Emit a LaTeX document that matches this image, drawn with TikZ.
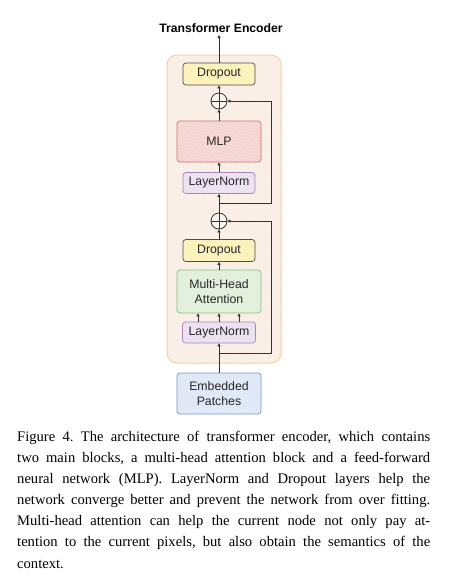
\documentclass[tikz,border=0pt]{standalone}
\usepackage{fontspec}
\setmainfont{Liberation Serif}
\setsansfont{Liberation Sans}
\usepackage{tikz}
\usetikzlibrary{arrows.meta,patterns,positioning,calc}

\definecolor{contfill}{RGB}{253,244,238}
\definecolor{conthatch}{RGB}{248,230,218}
\definecolor{contline}{RGB}{244,210,155}
\definecolor{yelfill}{RGB}{255,248,208}
\definecolor{yelhatch}{RGB}{252,234,150}
\definecolor{redfill}{RGB}{252,230,228}
\definecolor{redhatch}{RGB}{244,186,184}
\definecolor{redline}{RGB}{212,108,106}
\definecolor{purfill}{RGB}{243,237,247}
\definecolor{purhatch}{RGB}{222,207,233}
\definecolor{purline}{RGB}{165,135,185}
\definecolor{grnfill}{RGB}{236,245,232}
\definecolor{grnhatch}{RGB}{210,232,200}
\definecolor{grnline}{RGB}{140,190,120}
\definecolor{blufill}{RGB}{234,240,251}
\definecolor{bluhatch}{RGB}{205,219,243}
\definecolor{bluline}{RGB}{122,152,200}
\definecolor{wire}{RGB}{50,50,50}

\tikzset{
  layer/.style={draw, rounded corners=3pt, line width=0.7pt, minimum width=72pt, minimum height=22pt,
    inner sep=0pt, font=\sffamily\fontsize{12.3}{14}\selectfont, align=center, text=black!85},
  wide/.style={layer, minimum width=84pt, minimum height=42pt},
  dropbox/.style={layer, draw=black!70, preaction={fill=yelfill}, pattern=north east lines, pattern color=yelhatch},
  normbox/.style={layer, draw=purline, preaction={fill=purfill}, pattern=north east lines, pattern color=purhatch},
  mlpbox/.style={wide, draw=redline, preaction={fill=redfill}, pattern=north east lines, pattern color=redhatch},
  attnbox/.style={wide, draw=grnline, preaction={fill=grnfill}, pattern=north east lines, pattern color=grnhatch},
  inbox/.style={wide, draw=bluline, preaction={fill=blufill}, pattern=north east lines, pattern color=bluhatch},
  addop/.style={draw=wire, circle, line width=0.8pt, minimum size=16pt, inner sep=0pt, fill=white, fill opacity=0.4,
    path picture={\draw[wire, line width=0.8pt] (path picture bounding box.north) -- (path picture bounding box.south)
      (path picture bounding box.west) -- (path picture bounding box.east);}},
  arr/.style={wire, line width=0.8pt, -{Triangle[length=3pt,width=3pt]}}
}

\begin{document}
\frenchspacing
\begin{tikzpicture}[x=1pt,y=-1pt]
\useasboundingbox[fill=white] (0,0) rectangle (448,587);
\draw[contline, line width=1pt, rounded corners=10pt, preaction={fill=contfill}, pattern=north east lines, pattern color=conthatch] (167,55) rectangle (281,363);

\node[font=\sffamily\bfseries\fontsize{12.2}{14}\selectfont] (title) at (221,28) {Transformer Encoder};

\node[dropbox] (drop1) at (219,74) {Dropout};
\node[addop] (add1) at (219,101) {};
\node[mlpbox, minimum height=41pt] (mlp) at (219,141.5) {MLP};
\node[normbox, minimum height=21pt] (norm1) at (219,183) {LayerNorm};
\node[addop] (add2) at (219,221) {};
\node[dropbox] (drop2) at (219,250.5) {Dropout};
\node[attnbox, minimum height=43pt] (attn) at (219,291.5) {Multi-Head\\[1pt]Attention};
\node[normbox, minimum width=73pt, minimum height=21pt] (norm2) at (219,332.5) {LayerNorm};
\node[inbox, minimum height=41pt] (emb) at (219,393.5) {Embedded\\[1pt]Patches};

\coordinate (out) at (219,35);
\coordinate (res1) at (219,203);
\coordinate (res1r) at (271,203);
\coordinate (res2) at (219,353);
\coordinate (res2r) at (271,353);

\draw[arr] (drop1.north) -- (out);
\draw[arr] (add1.north) -- (drop1.south);
\draw[arr] (mlp.north) -- (add1.south);
\draw[arr] (norm1.north) -- (mlp.south);
\draw[arr] (add2.north) -- (norm1.south);
\draw[arr] (res1) -- (res1r) |- (add1.east);
\draw[arr] (drop2.north) -- (add2.south);
\draw[arr] (attn.north) -- (drop2.south);
\draw[arr] ([xshift=-21pt]norm2.north) -- ([xshift=-21pt]attn.south);
\draw[arr] (norm2.north) -- (attn.south);
\draw[arr] ([xshift=20pt]norm2.north) -- ([xshift=20pt]attn.south);
\draw[arr] (emb.north) -- (norm2.south);
\draw[arr] (res2) -- (res2r) |- (add2.east);

\node[anchor=north west, inner sep=0pt, text width=413pt, align=justify,
  font=\rmfamily\fontsize{14.6}{21.1}\selectfont] (caption) at (17,431)
  {Figure 4. The architecture of transformer encoder, which contains\linebreak
   two main blocks, a multi-head attention block and a feed-forward\linebreak
   neural network (MLP). LayerNorm and Dropout layers help the\linebreak
   network converge better and prevent the network from over fitting.\linebreak
   Multi-head attention can help the current node not only pay at-\linebreak
   tention to the current pixels, but also obtain the semantics of the\linebreak
   context.};
\end{tikzpicture}
\end{document}
